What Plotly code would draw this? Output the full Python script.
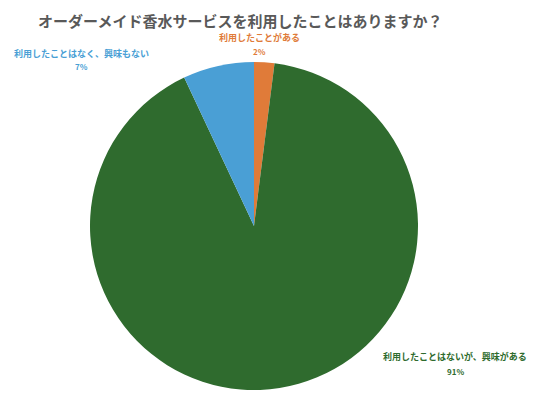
import plotly.graph_objects as go

title = "オーダーメイド香水サービスを利用したことはありますか？"
labels = ["利用したことがある", "利用したことはないが、興味がある", "利用したことはなく、興味もない"]
values = [2, 91, 7]
colors = ["#e07b39", "#2f6b2e", "#4a9fd5"]

W, H = 551, 400
OFF = 8  # page body margin shifts the figure by 8px


def px(x):
    return (x - OFF) / W


def py(y):
    return 1 - (y - OFF) / H


# screen positions of the outside labels (label line, percent line)
label_pos = [(259, 38, 52), (455, 356, 371), (81, 53, 67)]

fig = go.Figure()
fig.add_trace(go.Pie(
    labels=labels,
    values=values,
    sort=False,
    direction="clockwise",
    rotation=0,
    marker=dict(colors=colors, line=dict(width=0)),
    textinfo="none",
    hoverinfo="label+percent",
    showlegend=False,
    domain=dict(x=[px(90), px(418)], y=[py(390), py(62)]),
))

font = "Noto Sans CJK JP"
# title as annotation, anchored at its top so it stays inside the figure
fig.add_annotation(x=px(240), y=1, xref="paper", yref="paper", showarrow=False,
                   xanchor="center", yanchor="top",
                   text="<b>%s</b>" % title, font=dict(family=font, size=15, color="#595959"))

for lab, v, c, (x, y1, y2) in zip(labels, values, colors, label_pos):
    fig.add_annotation(x=px(x), y=py(y1), xref="paper", yref="paper", showarrow=False,
                       xanchor="center", yanchor="middle",
                       text="<b>%s</b>" % lab, font=dict(family=font, size=9, color=c))
    fig.add_annotation(x=px(x), y=py(y2), xref="paper", yref="paper", showarrow=False,
                       xanchor="center", yanchor="middle",
                       text="<b>%d%%</b>" % v, font=dict(family=font, size=8, color=c))

fig.update_layout(
    width=W, height=H,
    margin=dict(l=0, r=0, t=0, b=0),
    paper_bgcolor="white",
)

fig.write_html("out.html")
